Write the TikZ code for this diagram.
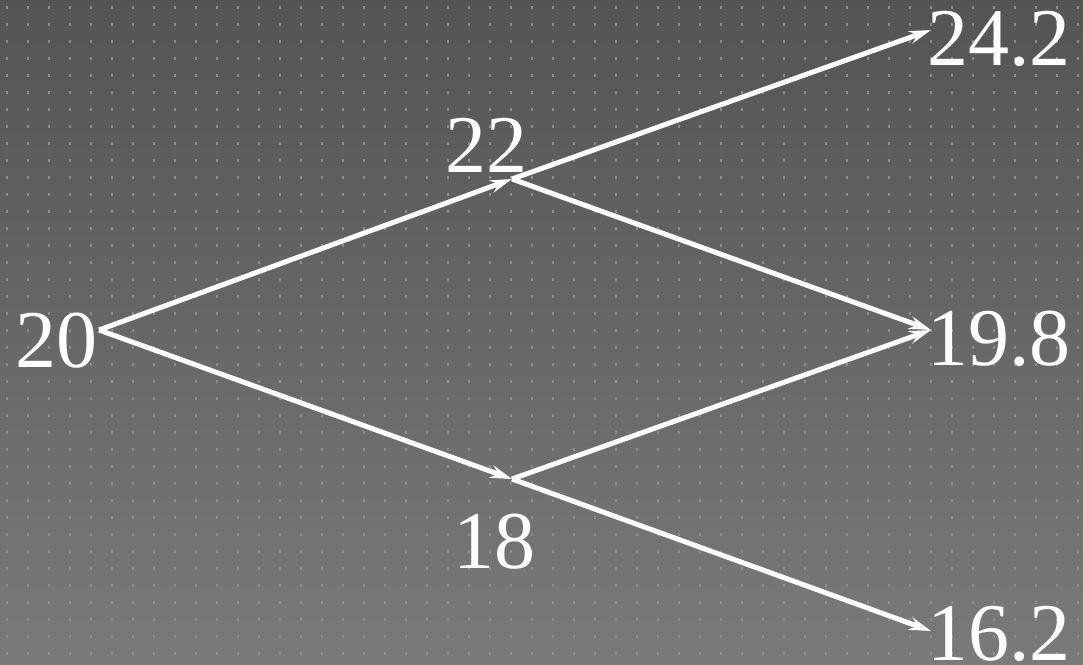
\documentclass[tikz,border=0pt]{standalone}
\usepackage{fontspec}
\setmainfont{Liberation Serif}
\usetikzlibrary{arrows.meta}

\definecolor{bgtop}{RGB}{84,84,84}
\definecolor{bgbot}{RGB}{122,122,122}
\definecolor{dotc}{RGB}{140,140,140}

\tikzset{
  val/.style={inner sep=0pt, text=white, font=\fontsize{82}{90}\selectfont},
  edge/.style={white, line width=5pt},
  arr/.style={edge, -{Stealth[length=22pt,width=13pt,inset=8pt]}}
}

\begin{document}
\begin{tikzpicture}[x=1pt,y=-1pt]
% BACKGROUND
\shade[top color=bgtop, bottom color=bgbot] (0,0) rectangle (1083,664);
\useasboundingbox (0,0) rectangle (1083,664);
\foreach \i in {0,...,51}
  \foreach \j in {0,...,38}
    \fill[dotc] (6+21*\i,5.5+17*\j) rectangle ++(2,3);

% VALUES
\node[val, anchor=base west] (n20)  at (15,367)  {20};
\node[val, anchor=base west] (n22)  at (445,172) {22};
\node[val, anchor=base west] (n18)  at (453,568) {18};
\node[val, anchor=base west] (n242) at (927,65)  {24.2};
\node[val, anchor=base west] (n198) at (927,365) {19.8};
\node[val, anchor=base west] (n162) at (927,660) {16.2};

\coordinate (s20) at (99,330);   % start of the tree
\coordinate (up)  at (512,179);  % after the up move
\coordinate (dn)  at (512,479);  % after the down move
\coordinate (t242) at (931,30);
\coordinate (t198) at (931,330);
\coordinate (t162) at (931,631);

% ARROWS
\draw[arr] (s20) -- (up);
\draw[arr] (s20) -- (dn);
\draw[arr] (up) -- (t242);
\draw[arr] (up) -- (t198);
\draw[arr] (dn) -- (t198);
\draw[arr] (dn) -- (t162);

\end{tikzpicture}
\end{document}
